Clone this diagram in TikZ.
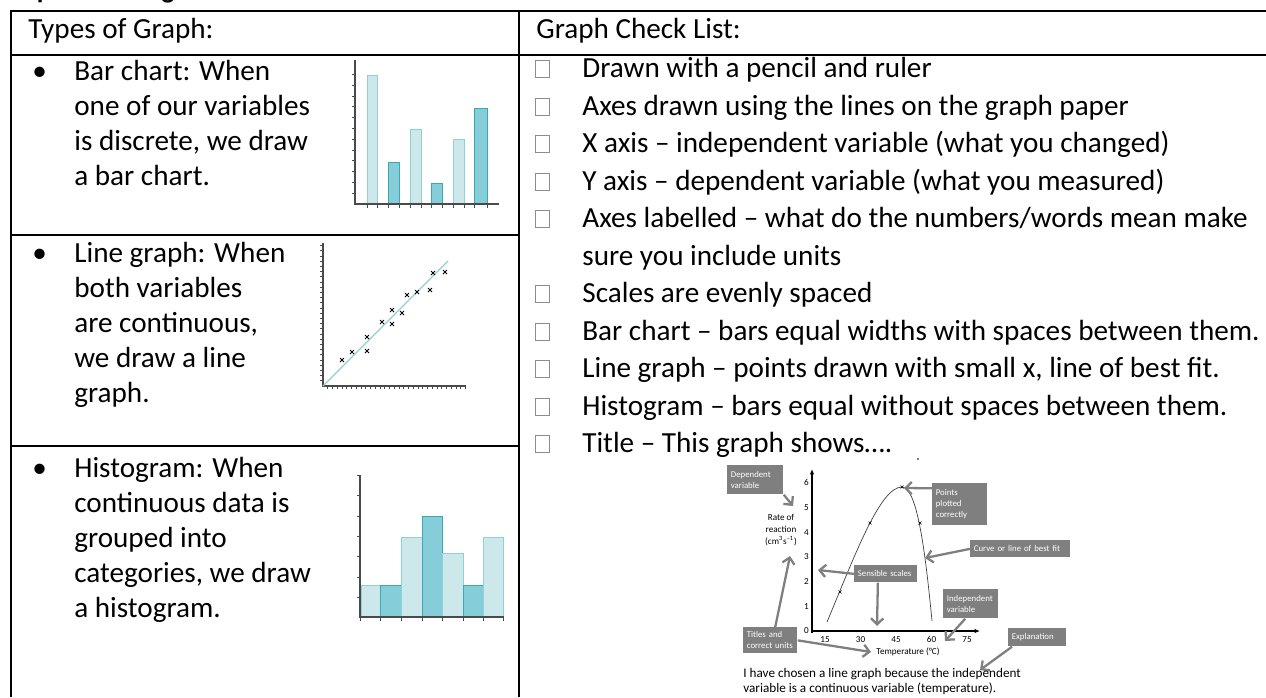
\documentclass[tikz,border=0pt]{standalone}
\usepackage{fontspec}
\setmainfont{Carlito}
\usepackage{tikz}
\usetikzlibrary{positioning}
\usetikzlibrary{arrows.meta}

\definecolor{barlight}{HTML}{CCE8EA}
\definecolor{barlightedge}{HTML}{8FD1D6}
\definecolor{bardark}{HTML}{85CDD8}
\definecolor{bardarkedge}{HTML}{3AA9B3}
\definecolor{axisgray}{HTML}{4A4A4A}
\definecolor{fitblue}{HTML}{8CCFE0}
\definecolor{annogray}{HTML}{7F7F7F}
\definecolor{boxgray}{HTML}{8C8C8C}

\tikzset{
  tablerule/.style={black, line width=0.8pt},
  celltext/.style={anchor=base west, inner sep=0pt, font=\fontsize{16.6}{19}\selectfont},
  tickbox/.style={draw=boxgray, line width=0.4pt, minimum width=0.28cm, minimum height=0.34cm, inner sep=0pt},
  lightbar/.style={fill=barlight, draw=barlightedge, line width=0.5pt},
  darkbar/.style={fill=bardark, draw=bardarkedge, line width=0.5pt},
  chartaxis/.style={draw=axisgray, line width=0.8pt},
  charttick/.style={draw=axisgray, line width=0.4pt},
  xmark/.style={black, line width=0.45pt},
  graphaxis/.style={black, line width=0.7pt, -{Latex[length=3pt,width=2.5pt]}},
  graphtext/.style={inner sep=0pt, font=\fontsize{5.2}{6.8}\selectfont},
  annobox/.style={fill=annogray, text=white, font=\fontsize{5}{6.2}\selectfont, align=left, anchor=north west, inner sep=2pt},
  annoarrow/.style={draw=annogray, line width=1.3pt, -{Straight Barb[length=3.5pt,width=7pt]}},
}

\begin{document}
\begin{tikzpicture}[x=0.02cm, y=-0.02cm]
  \useasboundingbox (0,0) rectangle (1266,697);

  % heading, cut off by the top of the page
  \begin{scope}
    \clip (0,0) rectangle (1266,697);
    \node[anchor=base west, inner sep=0pt, font=\bfseries\fontsize{15.4}{18}\selectfont] (heading) at (11,-2) {Experimenting};
  \end{scope}

  % table rules
  \draw[tablerule] (11,697) -- (11,11) -- (1266,11);
  \draw[tablerule] (11,55) -- (1266,55);
  \draw[tablerule] (519,11) -- (519,697);
  \draw[tablerule] (11,235) -- (519,235);
  \draw[tablerule] (11,446) -- (519,446);

  \node[celltext] (typeshead) at (28,38) {Types of Graph:};
  \node[celltext] (checkhead) at (536,38) {Graph Check List:};

  % left column texts
  \node[celltext] (barbullet) at (32,80) {•};
  \foreach \txt [count=\i from 0] in {Bar chart: When, one of our variables, {is discrete, we draw}, a bar chart.}
    \node[celltext] (bar\i) at (74,80+35*\i) {\txt};

  \node[celltext] (linebullet) at (32,262) {•};
  \foreach \txt [count=\i from 0] in {Line graph: When, both variables, {are continuous,}, we draw a line, graph.}
    \node[celltext] (line\i) at (74,262+35*\i) {\txt};

  \node[celltext] (histbullet) at (32,477) {•};
  \foreach \txt [count=\i from 0] in {Histogram: When, continuous data is, grouped into, {categories, we draw}, a histogram.}
    \node[celltext] (hist\i) at (74,477+35*\i) {\txt};

  % bar chart
  \foreach \l/\r/\t/\sty in {367/377/75/lightbar, 388/399/162/darkbar, 410/421/129/lightbar, 431/442/183/darkbar, 453/464/139/lightbar, 474/487/108/darkbar}
    \draw[\sty] (\l,204) rectangle (\r,\t);
  \draw[chartaxis] (355,60) -- (355,204) -- (499,204);
  \foreach \k in {1,...,12}
    \draw[charttick] (352,204-10.8*\k) -- (355,204-10.8*\k);
  \foreach \xx in {367,377,388,399,410,421,431,442,453,464,474,487}
    \draw[charttick] (\xx,204) -- (\xx,208);

  % line graph
  \draw[chartaxis] (323,243) -- (323,386) -- (466,386);
  \foreach \k in {1,...,27}
    \draw[charttick] (320,386-5.2*\k) -- (323,386-5.2*\k);
  \foreach \k in {1,...,30}
    \draw[charttick] (323+4.75*\k,386) -- (323+4.75*\k,389);
  \draw[fitblue, line width=0.7pt] (323,386) -- (448,261);
  \foreach \px/\py in {342/360, 352/352, 367/337, 367/351, 382/322, 392/310, 392/324, 402/313, 407/295, 417/292, 430/290, 433/273, 445/272}
    \draw[xmark] (\px-2,\py-2) -- (\px+2,\py+2) (\px-2,\py+2) -- (\px+2,\py-2);

  % histogram
  \foreach \l/\r/\t/\sty in {361/380/585/lightbar, 380/401/585/darkbar, 401/422/537/lightbar, 422/442/516/darkbar, 442/463/553/lightbar, 463/483/585/darkbar, 483/503/537/lightbar}
    \draw[\sty] (\l,617) rectangle (\r,\t);
  \draw[chartaxis] (360,475) -- (360,617) -- (504,617);
  \foreach \k in {0,...,6}
    \draw[charttick] (357,475+20.45*\k) -- (360,475+20.45*\k);
  \foreach \xx in {360,380,401,422,442,463,483,503}
    \draw[charttick] (\xx,617) -- (\xx,621);

  % check list
  \foreach \n/\txt in {0/Drawn with a pencil and ruler, 1/Axes drawn using the lines on the graph paper, 2/{X axis – independent variable (what you changed)}, 3/{Y axis – dependent variable (what you measured)}, 4/{Axes labelled – what do the numbers/words mean make}, 6/Scales are evenly spaced, 7/{Bar chart – bars equal widths with spaces between them.}, 8/{Line graph – points drawn with small x, line of best fit.}, 9/{Histogram – bars equal without spaces between them.}, 10/{Title – This graph shows….}}
  {
    \node[tickbox] (tick\n) at (542,69+37.5*\n) {};
    \node[celltext] (item\n) at (582,77.5+37.5*\n) {\txt};
  }
  \node[celltext] (item5) at (582,265) {sure you include units};

  % example graph
  \fill (918,459) circle (0.5pt);
  \draw[graphaxis] (812,633) -- (812,469);
  \draw[graphaxis] (811,631) -- (980,631);
  \foreach \v in {0,...,6}
    \node[graphtext, anchor=east] (ylab\v) at (809,631-24.7*\v) {\v};
  \foreach \v [count=\i from 0] in {15,30,45,60,75}
    \node[graphtext, anchor=north] (xlab\v) at (825+35.5*\i,636) {\v};
  \node[graphtext, anchor=north] (xtitle) at (908,647) {Temperature (°C)};
  \node[graphtext, align=center] (ytitle) at (781,530) {Rate of\\reaction\\(cm\textsuperscript{3}s\textsuperscript{–1})};

  \draw[black!75, line width=0.4pt] (827,622) .. controls (855,555) and (880,487) .. (902,487) .. controls (918,487) and (926,560) .. (932,621);
  \foreach \px/\py in {840/592, 870/523, 902/487, 920/523}
    \draw[xmark, line width=0.35pt] (\px-1.5,\py-1.5) -- (\px+1.5,\py+1.5) (\px-1.5,\py+1.5) -- (\px+1.5,\py-1.5);

  % annotation boxes
  \node[annobox, minimum width=1.12cm, minimum height=0.58cm, text width=0.98cm] (dep) at (727,465) {Dependent\\variable};
  \node[annobox, minimum width=1.10cm, minimum height=0.84cm, text width=0.96cm] (pts) at (932,483) {Points\\plotted\\correctly};
  \node[annobox, minimum width=2.00cm, minimum height=0.34cm, text width=1.86cm] (curve) at (970,540) {Curve or line of best fit};
  \node[annobox, minimum width=1.26cm, minimum height=0.34cm, text width=1.12cm] (scales) at (854,565) {Sensible scales};
  \node[annobox, minimum width=1.09cm, minimum height=0.58cm, text width=0.95cm] (indep) at (943,589) {Independent\\variable};
  \node[annobox, minimum width=1.08cm, minimum height=0.52cm, text width=0.94cm] (titles) at (743,627) {Titles and\\correct units};
  \node[annobox, minimum width=1.16cm, minimum height=0.36cm, text width=1.02cm] (expl) at (1008,628) {Explanation};

  \coordinate (deptip) at (793,506);
  \coordinate (ytitletip) at (790,556);
  \coordinate (xtitletip) at (871,652);
  \coordinate (scalesleft) at (818,570);
  \coordinate (scalesdown) at (877,626);
  \coordinate (indeptip) at (945,641);
  \coordinate (expltip) at (980,670);
  \coordinate (ptstip) at (904,488);
  \coordinate (curvetip) at (925,558);

  \draw[annoarrow] (dep.south east) -- (deptip);
  \draw[annoarrow] (titles.70) -- (ytitletip);
  \draw[annoarrow] (titles.east) -- (xtitletip);
  \draw[annoarrow] (scales.west) -- (scalesleft);
  \draw[annoarrow] ([xshift=-0.16cm]scales.south) -- (scalesdown);
  \draw[annoarrow] (indep.250) -- (indeptip);
  \draw[annoarrow] ([xshift=0.08cm]expl.south west) -- (expltip);
  \draw[annoarrow] (pts.150) -- (ptstip);
  \draw[annoarrow] (curve.west) -- (curvetip);

  \node[anchor=base west, inner sep=0pt, font=\fontsize{7.5}{8.5}\selectfont] (explain1) at (743,677) {I have chosen a line graph because the independent};
  \node[anchor=base west, inner sep=0pt, font=\fontsize{7.5}{8.5}\selectfont] (explain2) at (743,692) {variable is a continuous variable (temperature).};
\end{tikzpicture}
\end{document}
